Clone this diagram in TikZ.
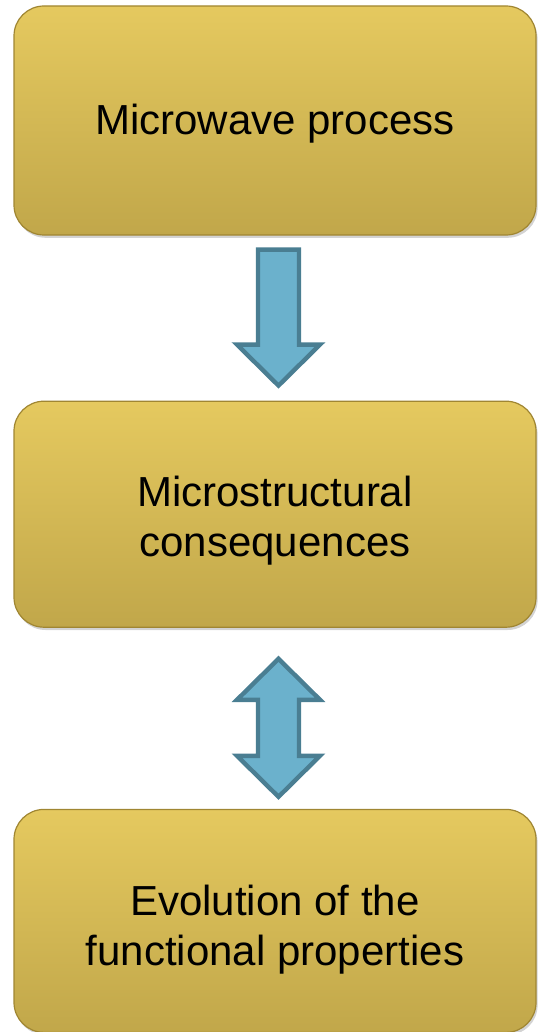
\documentclass[tikz,border=0pt]{standalone}
\usepackage{fontspec}
\setmainfont{Liberation Sans}
\usepackage{xcolor}
\usepackage{tikz}
\usetikzlibrary{positioning,calc,shadows}
\definecolor{boxtop}{RGB}{229,201,95}
\definecolor{boxbot}{RGB}{193,167,74}
\definecolor{boxedge}{RGB}{160,134,50}
\definecolor{arrfill}{RGB}{107,177,204}
\definecolor{arredge}{RGB}{74,126,146}
\newcommand{\lowstrut}[1]{\rule{0pt}{#1}}

\begin{document}
\begin{tikzpicture}[x=0.5pt, y=-0.5pt, node distance=82.5pt,
  box/.style = {draw=boxedge, line width=0.6pt, rounded corners=15pt, top color=boxtop, bottom color=boxbot,
    minimum width=261pt, align=center, font=\fontsize{21pt}{25pt}\selectfont,
    drop shadow={opacity=0.35, shadow xshift=0.8pt, shadow yshift=-1.4pt}},
  blockarr/.style = {draw=arredge, fill=arrfill, line width=2.2pt, line join=miter}]
\useasboundingbox (0,0) rectangle (538,1032);
\node[box, minimum height=114.5pt] (proc) at (275,120.5) {\lowstrut{18pt}Microwave process};
\node[box, minimum height=113pt] (cons) [below=of proc] {\lowstrut{22pt}Microstructural\\consequences};
\node[box, minimum height=111.5pt] (prop) [below=90.5pt of cons] {\lowstrut{24pt}Evolution of the\\functional properties};
\draw[blockarr] ($(proc.south)+(-17,14)$) -- ++(41,0) -- ++(0,95) -- ++(21,0) -- ++(-41.5,41) -- ++(-41.5,-41) -- ++(21,0) -- cycle;
\draw[blockarr] ($(cons.south)+(3.5,31)$) -- ++(41.5,41) -- ++(-21,0) -- ++(0,56) -- ++(21,0) -- ++(-41.5,41) -- ++(-41.5,-41) -- ++(21,0) -- ++(0,-56) -- ++(-21,0) -- cycle;
\end{tikzpicture}
\end{document}
